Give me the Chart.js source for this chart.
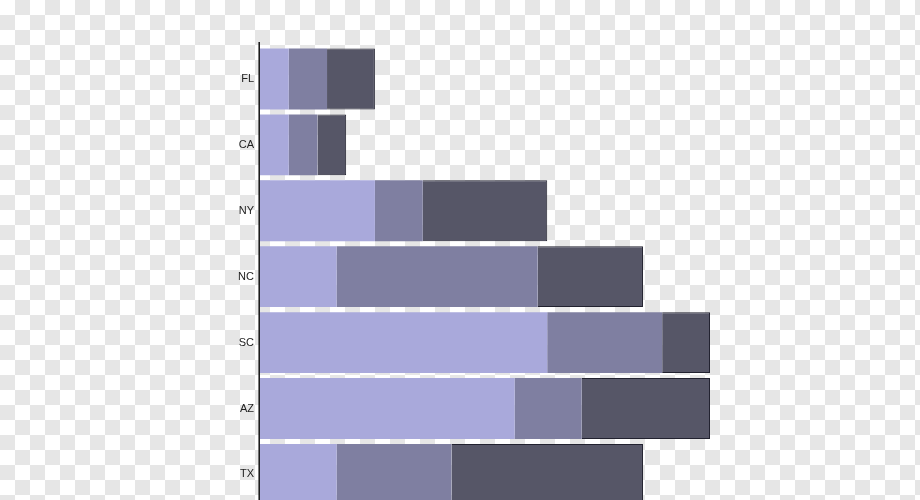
<!DOCTYPE html>
<html>
<head>
<meta charset="utf-8">
<script src="https://cdn.jsdelivr.net/npm/chart.js@4"></script>
<style>
html,body{margin:0;padding:0;overflow:hidden;width:920px;height:500px;}
body{
  background: repeating-conic-gradient(#e6e6e6 0% 25%, #ffffff 0% 50%) 0 0 / 30px 30px;
}
#wrap{position:absolute;left:0;top:0;width:920px;height:520px;}
</style>
</head>
<body>
<div id="wrap"><canvas id="c"></canvas></div>
<script>
const categories = ["FL","CA","NY","NC","SC","AZ","TX"];
const seriesA = [3, 3, 12, 8, 30, 26.6, 8];
const seriesB = [4, 3, 5, 21, 12, 7, 12];
const seriesC = [5, 3, 13, 11, 5, 13.4, 20];
const xMax = 47;

const axisLine = {
  id:'axisLine',
  afterDatasetsDraw(chart){
    const {ctx, chartArea} = chart;
    ctx.save();
    ctx.strokeStyle = '#111';
    ctx.lineWidth = 1.5;
    ctx.beginPath();
    ctx.moveTo(chartArea.left - 0.8, chartArea.top - 4);
    ctx.lineTo(chartArea.left - 0.8, chartArea.bottom + 10);
    ctx.stroke();
    ctx.restore();
  }
};

new Chart(document.getElementById('c'), {
  type:'bar',
  data:{
    labels:categories,
    datasets:[
      {data:seriesA, backgroundColor:'#a9a9db', borderWidth:0},
      {data:seriesB, backgroundColor:'#7f7fa1', borderWidth:0},
      {data:seriesC, backgroundColor:'#565667', borderColor:'#222230', borderWidth:1, borderSkipped:'left'}
    ]
  },
  options:{
    indexAxis:'y',
    responsive:true,
    maintainAspectRatio:false,
    animation:false,
    layout:{padding:{left:0,right:210,top:46,bottom:11}},
    plugins:{legend:{display:false},tooltip:{enabled:false}},
    datasets:{bar:{barPercentage:0.923,categoryPercentage:1.0}},
    scales:{
      x:{display:false, stacked:true, min:0, max:xMax},
      y:{
        stacked:true,
        grid:{display:false, drawTicks:false},
        border:{display:false},
        ticks:{color:'#222', font:{family:'"Liberation Sans", Arial, sans-serif', size:11}, padding:6},
        afterFit(s){ s.width = 260; }
      }
    }
  },
  plugins:[axisLine]
});
</script>
</body>
</html>
